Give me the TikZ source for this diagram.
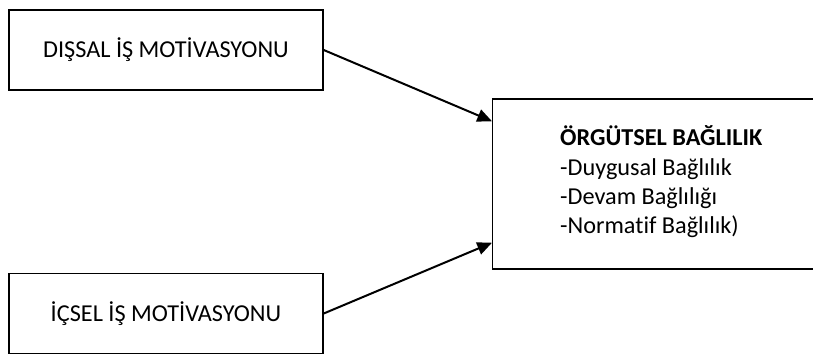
\documentclass[tikz,border=0pt]{standalone}
\usepackage{fontspec}
\setmainfont[Ligatures=NoCommon]{Carlito}
\usetikzlibrary{arrows.meta}

\tikzset{
    motbox/.style={draw, line width=1.1pt, minimum width=235.5pt, minimum height=60pt,
        font=\fontsize{18.2}{21}\selectfont},
    orgbox/.style={draw, line width=1.1pt, anchor=west, inner xsep=46.5pt,
        minimum height=127.5pt, font=\fontsize{18.2}{22}\selectfont},
    link/.style={line width=1.5pt, -{Triangle[length=11pt,width=9.5pt]}}
}

\begin{document}
\begin{tikzpicture}[x=0.75pt, y=-0.75pt]
    \useasboundingbox (0,0) rectangle (813,357);
    \node [motbox] (ext) at (166,50) {DIŞSAL İŞ MOTİVASYONU};
    \node [motbox] (int) at (166,313.5) {İÇSEL İŞ MOTİVASYONU};
    \node [orgbox] (org) at (492,184)
    {{
        \begin{tabular}{@{}l@{}}
        \textbf{ÖRGÜTSEL BAĞLILIK}\\
        -Duygusal Bağlılık\\
        -Devam Bağlılığı\\
        -Normatif Bağlılık)
        \end{tabular}
    }};
    \draw [link] (ext.east) -- ([yshift=-17.25pt]org.north west);
    \draw [link] (int.east) -- ([yshift=20.25pt]org.south west);
\end{tikzpicture}
\end{document}
